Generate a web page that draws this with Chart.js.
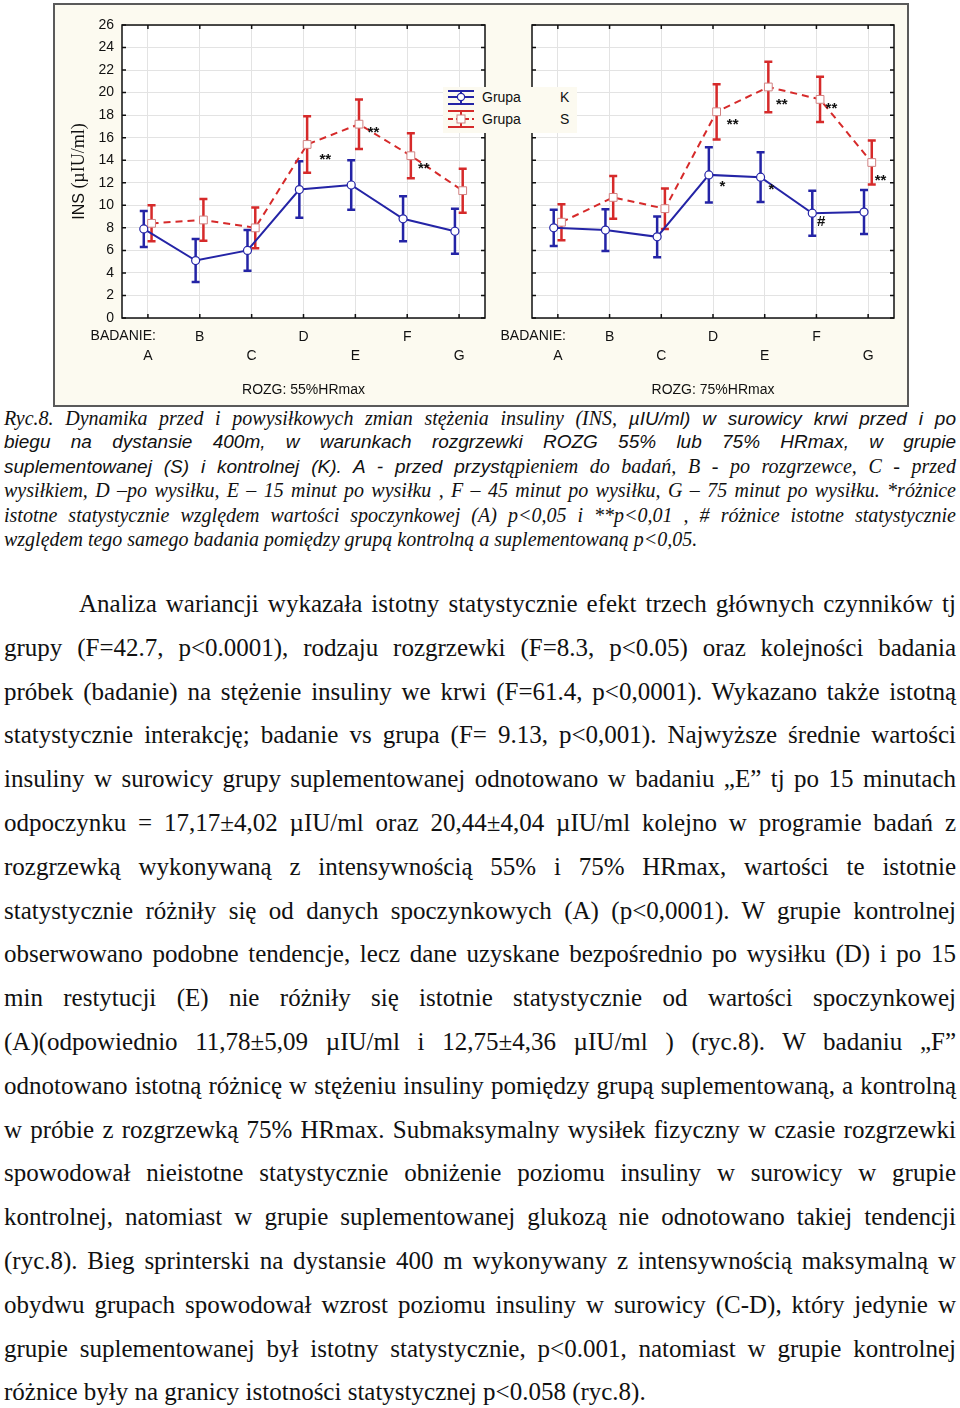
<!DOCTYPE html>
<html>
<head>
<meta charset="utf-8">
<script src="https://cdn.jsdelivr.net/npm/chart.js@4.4.1/dist/chart.umd.min.js"></script>
<style>
  html, body { margin: 0; padding: 0; background: #fff; }
  #page { position: relative; width: 960px; height: 1408px; overflow: hidden; color: #111; }
  #frame { position: absolute; left: 53px; top: 3px; width: 852px; height: 400px;
           background: #fcfaf0; border: 2px solid #5a5a5a; }
  .cw { position: absolute; top: 5px; height: 400px; }
  #leg { position: absolute; left: 443px; top: 87px; width: 134px; height: 46px; background: #fcfaf0;
         font: 14px "Liberation Sans", Arial, sans-serif; }
  #leg span { position: absolute; }
  #leg svg { position: absolute; left: 3px; top: 0; }
  .ln { position: absolute; left: 4px; white-space: nowrap; }
  .cap .ln { height: 24.2px; line-height: 24.2px; }
  .s { font: italic 20px "Liberation Serif", "Times New Roman", serif; }
  .a { font: italic 19px "Liberation Sans", Arial, sans-serif; }
  .body .ln { font: 25px "Liberation Serif", "Times New Roman", serif; height: 43.8px; line-height: 43.8px; }
</style>
</head>
<body>
<div id="page">
  <div id="frame"></div>
  <div class="cw" style="left:55px;width:440px;"><canvas id="ch55"></canvas></div>
  <div class="cw" style="left:495px;width:411px;"><canvas id="ch75"></canvas></div>
  <div id="leg">
    <svg width="32" height="46">
      <g stroke="#2424a6" stroke-width="2">
        <line x1="2" y1="4" x2="28" y2="4"/><line x1="2" y1="10" x2="28" y2="10"/><line x1="2" y1="17" x2="28" y2="17"/>
        <line x1="15" y1="4" x2="15" y2="17"/>
      </g>
      <circle cx="15" cy="10" r="3.6" fill="#fff" stroke="#2424a6" stroke-width="1.2"/>
      <g stroke="#d62a2a" stroke-width="2">
        <line x1="2" y1="24" x2="28" y2="24"/><line x1="2" y1="40" x2="28" y2="40"/>
        <line x1="2" y1="32" x2="28" y2="32" stroke-dasharray="5,3"/>
        <line x1="15" y1="24" x2="15" y2="40"/>
      </g>
      <rect x="11" y="28" width="8" height="8" fill="#fff" stroke="#d08080" stroke-width="1"/>
    </svg>
    <span style="left:39px;top:2px;">Grupa</span><span style="left:117px;top:2px;">K</span>
    <span style="left:39px;top:24px;">Grupa</span><span style="left:117px;top:24px;">S</span>
  </div>

  <div class="cap">
    <div class="ln j" style="top:407px;"><span class="s">Ryc.8. Dynamika przed i powysiłkowych zmian stężenia insuliny (INS, </span><span class="a">µIU/ml) w surowicy krwi przed i po</span></div>
    <div class="ln j" style="top:431px;"><span class="a">biegu na dystansie 400m, w warunkach rozgrzewki ROZG 55% lub 75% HRmax, w grupie</span></div>
    <div class="ln j" style="top:455px;"><span class="a">suplementowanej (S) i kontrolnej (K). A - przed przyst</span><span class="s">ąpieniem do badań, B - po rozgrzewce, C - przed</span></div>
    <div class="ln j" style="top:479px;"><span class="s">wysiłkiem, D –po wysiłku, E – 15 minut po wysiłku , F – 45 minut po wysiłku, G – 75 minut po wysiłku. *różnice</span></div>
    <div class="ln j" style="top:504px;"><span class="s">istotne statystycznie względem wartości spoczynkowej (A) p&lt;0,05 i **p&lt;0,01 , # różnice istotne statystycznie</span></div>
    <div class="ln" style="top:528px;"><span class="s">względem tego samego badania pomiędzy grupą kontrolną a suplementowaną p&lt;0,05.</span></div>
  </div>
  <div class="body" id="body"></div>
</div>

<script>
// kategorie badania (A..G)
const BADANIE = ['A', 'B', 'C', 'D', 'E', 'F', 'G'];
const Y_MIN = 0, Y_MAX = 26, Y_STEP = 2;

// ROZG 55% HRmax
const K_55     = [7.9, 5.1, 6.0, 11.4, 11.8, 8.8, 7.7];
const K_55_ERR = [1.6, 1.9, 1.8, 2.5, 2.2, 2.0, 2.0];
const S_55     = [8.4, 8.7, 8.0, 15.4, 17.2, 14.4, 11.3];
const S_55_ERR = [1.6, 1.85, 1.8, 2.5, 2.2, 2.0, 1.95];
// ROZG 75% HRmax
const K_75     = [8.0, 7.8, 7.2, 12.7, 12.5, 9.3, 9.4];
const K_75_ERR = [1.6, 1.85, 1.8, 2.45, 2.2, 2.0, 1.95];
const S_75     = [8.5, 10.7, 9.7, 18.3, 20.5, 19.4, 13.8];
const S_75_ERR = [1.6, 1.9, 1.8, 2.45, 2.25, 2.0, 1.95];

// oznaczenia istotnosci: [tekst, x (kategoria), y (wartosc)]
const MARKS_55 = [['**', 3.42, 14.4], ['**', 4.35, 16.8], ['**', 5.32, 13.6]];
const MARKS_75 = [['**', 3.38, 17.5], ['**', 4.33, 19.3], ['**', 5.29, 18.9], ['**', 6.24, 12.55],
                  ['*', 3.18, 12.0], ['*', 4.13, 11.7], ['#', 5.09, 8.6]];

const BODY_LINES = [
  'Analiza wariancji wykazała istotny statystycznie efekt trzech głównych czynników tj',
  'grupy (F=42.7, p<0.0001), rodzaju rozgrzewki (F=8.3, p<0.05) oraz kolejności badania',
  'próbek (badanie) na stężenie insuliny we krwi (F=61.4, p<0,0001). Wykazano także istotną',
  'statystycznie interakcję; badanie vs grupa (F= 9.13, p<0,001). Najwyższe średnie wartości',
  'insuliny w surowicy grupy suplementowanej odnotowano w badaniu „E” tj po 15 minutach',
  'odpoczynku = 17,17±4,02 µIU/ml oraz 20,44±4,04 µIU/ml kolejno w programie badań z',
  'rozgrzewką wykonywaną z intensywnością 55% i 75% HRmax, wartości te istotnie',
  'statystycznie różniły się od danych spoczynkowych (A) (p<0,0001). W grupie kontrolnej',
  'obserwowano podobne tendencje, lecz dane uzyskane bezpośrednio po wysiłku (D) i po 15',
  'min restytucji (E) nie różniły się istotnie statystycznie od wartości spoczynkowej',
  '(A)(odpowiednio 11,78±5,09 µIU/ml i 12,75±4,36 µIU/ml ) (ryc.8). W badaniu „F”',
  'odnotowano istotną różnicę w stężeniu insuliny pomiędzy grupą suplementowaną, a kontrolną',
  'w próbie z rozgrzewką 75% HRmax. Submaksymalny wysiłek fizyczny w czasie rozgrzewki',
  'spowodował nieistotne statystycznie obniżenie poziomu insuliny w surowicy w grupie',
  'kontrolnej, natomiast w grupie suplementowanej glukozą nie odnotowano takiej tendencji',
  '(ryc.8). Bieg sprinterski na dystansie 400 m wykonywany z intensywnością maksymalną w',
  'obydwu grupach spowodował wzrost poziomu insuliny w surowicy (C-D), który jedynie w',
  'grupie suplementowanej był istotny statystycznie, p<0.001, natomiast w grupie kontrolnej',
  'różnice były na granicy istotności statystycznej p<0.058 (ryc.8).'
];

const SANS = '"Liberation Sans", Arial, sans-serif';
const SERIF = '"Liberation Serif", "Times New Roman", serif';
const BLUE = '#2424a6', RED = '#d62a2a', GRID = '#e3e3e3';
const K_SHIFT = -0.08, S_SHIFT = 0.07;   // lekkie przesuniecie grup wzgledem siebie

const framePlugin = {
  id: 'frame',
  beforeDraw(chart) {
    const a = chart.chartArea, ctx = chart.ctx;
    ctx.save();
    ctx.fillStyle = '#fff';
    ctx.fillRect(a.left, a.top, a.right - a.left, a.bottom - a.top);
    ctx.restore();
  },
  beforeDatasetsDraw(chart) {
    const ctx = chart.ctx, ys = chart.scales.y;
    chart.data.datasets.forEach((ds, di) => {
      const meta = chart.getDatasetMeta(di);
      ctx.save();
      ctx.strokeStyle = ds.borderColor;
      ctx.lineWidth = 2.5;
      ds.data.forEach((p, j) => {
        const x = meta.data[j].x;
        const t = ys.getPixelForValue(p.y + ds.errors[j]);
        const b = ys.getPixelForValue(p.y - ds.errors[j]);
        ctx.beginPath();
        ctx.moveTo(x, t); ctx.lineTo(x, b);
        ctx.moveTo(x - 4, t); ctx.lineTo(x + 4, t);
        ctx.moveTo(x - 4, b); ctx.lineTo(x + 4, b);
        ctx.stroke();
      });
      ctx.restore();
    });
  },
  afterDraw(chart) {
    const ctx = chart.ctx, a = chart.chartArea, xs = chart.scales.x, ys = chart.scales.y;
    const o = chart.options.plugins.frame;
    ctx.save();
    // ramka i znaczniki do wewnatrz
    ctx.strokeStyle = '#111';
    ctx.lineWidth = 1.5;
    ctx.strokeRect(a.left, a.top, a.right - a.left, a.bottom - a.top);
    ctx.beginPath();
    for (let v = Y_MIN; v <= Y_MAX; v += Y_STEP) {
      const y = ys.getPixelForValue(v);
      ctx.moveTo(a.left, y); ctx.lineTo(a.left + 4, y);
      ctx.moveTo(a.right, y); ctx.lineTo(a.right - 4, y);
    }
    BADANIE.forEach((c, i) => {
      const x = xs.getPixelForValue(i);
      ctx.moveTo(x, a.top); ctx.lineTo(x, a.top + 4);
      ctx.moveTo(x, a.bottom); ctx.lineTo(x, a.bottom - 4);
    });
    ctx.stroke();

    // gwiazdki
    ctx.fillStyle = '#111';
    ctx.textAlign = 'center';
    ctx.textBaseline = 'alphabetic';
    o.marks.forEach(m => {
      const x = xs.getPixelForValue(m[1]), y = ys.getPixelForValue(m[2]);
      ctx.font = 'bold 15px ' + SANS;
      ctx.fillText(m[0], x, y + (m[0] === '#' ? 5 : 8));
    });

    // BADANIE:
    ctx.font = '14px ' + SANS;
    ctx.textAlign = 'right';
    ctx.textBaseline = 'middle';
    ctx.fillText('BADANIE:', xs.getPixelForValue(0) + 8, a.bottom + o.badY);

    // tytul osi Y
    if (o.yTitle) {
      const p1 = 'INS ', p2 = '(µIU/ml)';
      ctx.translate(o.yTitleX, (a.top + a.bottom) / 2);
      ctx.rotate(-Math.PI / 2);
      ctx.font = '16px ' + SANS;
      const w1 = ctx.measureText(p1).width;
      ctx.font = '18px ' + SERIF;
      const w2 = ctx.measureText(p2).width;
      let x0 = -(w1 + w2) / 2;
      ctx.textAlign = 'left';
      ctx.textBaseline = 'alphabetic';
      ctx.font = '16px ' + SANS;
      ctx.fillText(p1, x0, 6);
      ctx.font = '18px ' + SERIF;
      ctx.fillText(p2, x0 + w1, 6);
    }
    ctx.restore();
  }
};

function buildChart(id, kv, ke, sv, se, marks, axisTitle, showY, g) {
  return new Chart(document.getElementById(id), {
    type: 'line',
    data: {
      datasets: [
        {
          label: 'Grupa K', data: kv.map((v, i) => ({ x: i + K_SHIFT, y: v })), errors: ke,
          borderColor: BLUE, borderWidth: 2, tension: 0,
          pointStyle: 'circle', pointRadius: 4, pointBackgroundColor: '#fff',
          pointBorderColor: BLUE, pointBorderWidth: 1.2
        },
        {
          label: 'Grupa S', data: sv.map((v, i) => ({ x: i + S_SHIFT, y: v })), errors: se,
          borderColor: RED, borderWidth: 2, borderDash: [7, 5], tension: 0,
          pointStyle: 'rect', pointRadius: 5.5, pointBackgroundColor: '#fff',
          pointBorderColor: '#d08080', pointBorderWidth: 1
        }
      ]
    },
    options: {
      responsive: true,
      maintainAspectRatio: false,
      animation: false,
      layout: { padding: { left: 0, right: g.right, top: 20, bottom: g.bottom } },
      plugins: {
        legend: { display: false },
        tooltip: { enabled: false },
        frame: { marks: marks, yTitle: showY, yTitleX: 23, badY: 18 }
      },
      scales: {
        x: {
          type: 'linear', min: -0.5, max: 6.5,
          afterBuildTicks: s => { s.ticks = BADANIE.map((c, i) => ({ value: i })); },
          afterFit: s => { s.height = g.xh; },
          grid: { color: GRID, drawTicks: false },
          border: { display: false },
          ticks: {
            padding: 9, color: '#111', maxRotation: 0, autoSkip: false,
            font: { family: SANS, size: 14, lineHeight: 1.4 },
            callback: v => (v % 2 === 0 ? ['', BADANIE[v]] : [BADANIE[v], ''])
          },
          title: { display: true, text: axisTitle, color: '#111',
                   font: { family: SANS, size: 14 }, padding: { top: 0, bottom: 2 } }
        },
        y: {
          min: Y_MIN, max: Y_MAX,
          afterFit: s => { s.width = g.yw; },
          grid: { color: GRID, drawTicks: false },
          border: { display: false },
          ticks: { display: showY, stepSize: Y_STEP, padding: 8, color: '#111',
                   font: { family: SANS, size: 14 } }
        }
      }
    },
    plugins: [framePlugin]
  });
}

buildChart('ch55', K_55, K_55_ERR, S_55, S_55_ERR, MARKS_55, 'ROZG: 55%HRmax', true,
           { yw: 67, right: 10, bottom: 4.6, xh: 82.4 });
buildChart('ch75', K_75, K_75_ERR, S_75, S_75_ERR, MARKS_75, 'ROZG: 75%HRmax', false,
           { yw: 37, right: 12, bottom: 4.6, xh: 82.4 });

// tekst glowny
const bodyEl = document.getElementById('body');
BODY_LINES.forEach((t, i) => {
  const d = document.createElement('div');
  d.className = 'ln' + (i < BODY_LINES.length - 1 ? ' j' : '');
  d.style.top = (582 + i * 43.8) + 'px';
  if (i === 0) d.style.left = '79px';
  const s = document.createElement('span');
  s.textContent = t;
  d.appendChild(s);
  bodyEl.appendChild(d);
});

// wyjustowanie wierszy do prawej krawedzi 956px
document.fonts.ready.then(() => {
  document.querySelectorAll('.ln.j').forEach(d => {
    const left = parseFloat(d.style.left || 4);
    const w = Array.from(d.children).reduce((s, c) => s + c.getBoundingClientRect().width, 0);
    const n = (d.textContent.match(/ /g) || []).length;
    if (n) d.style.wordSpacing = ((956 - left - w) / n) + 'px';
  });
});
</script>
</body>
</html>
